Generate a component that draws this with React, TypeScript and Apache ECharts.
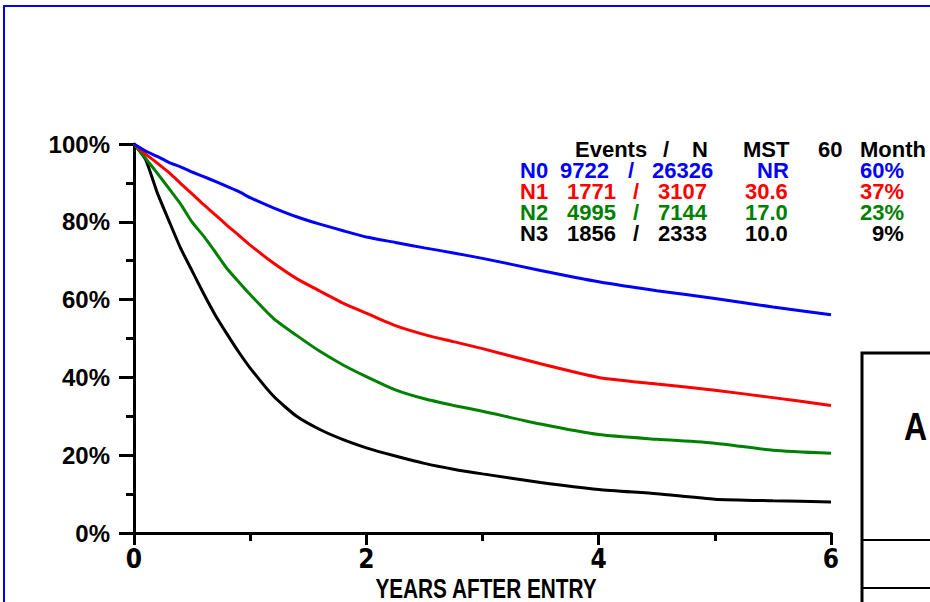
import React, { useEffect, useRef } from "react";
import * as echarts from "echarts";

// Follow-up time (years) at which survival is tabulated
const years = [0, 0.1, 0.2, 0.3, 0.4, 0.5, 0.6, 0.7, 0.8, 0.9, 1.0, 1.2, 1.4, 1.6, 1.8, 2.0, 2.25, 2.5, 2.75, 3.0, 3.5, 4.0, 4.5, 5.0, 5.5, 6.0];

// Survival (%) per nodal stage
const survN0 = [100, 98.2, 96.8, 95.3, 94.1, 92.8, 91.6, 90.4, 89.1, 87.8, 86.2, 83.6, 81.3, 79.4, 77.7, 76.1, 74.7, 73.3, 72.0, 70.6, 67.5, 64.6, 62.3, 60.3, 58.1, 56.1];
const survN1 = [100, 97.4, 95.1, 92.7, 89.9, 87.2, 84.4, 81.8, 79.1, 76.6, 74.0, 69.4, 65.4, 62.2, 59.1, 56.5, 53.3, 51.0, 49.2, 47.4, 43.5, 40.0, 38.3, 36.7, 34.8, 32.8];
const survN2 = [100, 96.3, 92.5, 88.6, 84.6, 79.9, 76.3, 72.2, 68.0, 64.6, 61.3, 55.2, 50.8, 46.7, 43.2, 40.2, 36.8, 34.5, 32.8, 31.3, 28.0, 25.3, 24.1, 23.1, 21.3, 20.5];
const survN3 = [100, 96.0, 87.5, 80.3, 73.3, 67.4, 61.5, 56.0, 51.2, 46.6, 42.4, 35.2, 30.0, 26.6, 24.0, 21.9, 19.8, 17.9, 16.4, 15.2, 13.0, 11.2, 10.1, 8.7, 8.3, 8.0];

// Summary table
const groups = ["N0", "N1", "N2", "N3"];
const events = ["9722", "1771", "4995", "1856"];
const totals = ["26326", "3107", "7144", "2333"];
const mst = ["NR", "30.6", "17.0", "10.0"];
const month60 = ["60%", "37%", "23%", "9%"];
const colors = ["#0000ff", "#ff0000", "#008000", "#000000"];
const curves = [survN0, survN1, survN2, survN3];

const NARROW = "'Liberation Sans Narrow', 'Arial Narrow', 'DejaVu Sans Condensed', sans-serif";
const SANS = "'Liberation Sans', Arial, Helvetica, sans-serif";

function tableText(): any[] {
  const out: any[] = [];
  const base = {
    fontFamily: SANS,
    fontWeight: "bold",
    fontSize: 22,
    lineHeight: 19,
    verticalAlign: "middle",
  };
  const header: [string, number][] = [
    ["Events", 575], ["/", 663], ["N", 692], ["MST", 743], ["60", 818], ["Month", 860],
  ];
  header.forEach(([t, x]) =>
    out.push({ type: "text", x, y: 149, style: { ...base, text: t, fill: "#000" } })
  );
  const rowY = [170, 191, 212, 233];
  groups.forEach((g, i) => {
    const y = rowY[i];
    const fill = colors[i];
    const cells: [string, number][] =
      i === 0
        ? [[g, 520], [events[i], 560], ["/", 628], [totals[i], 652], [mst[i], 757], [month60[i], 860]]
        : [[g, 520], [events[i], 567], ["/", 633], [totals[i], 658], [mst[i], 745], [month60[i], i === 3 ? 872 : 860]];
    cells.forEach(([t, x]) =>
      out.push({ type: "text", x, y, style: { ...base, text: t, fill } })
    );
  });
  return out;
}

export default function App() {
  const ref = useRef<HTMLDivElement>(null);

  useEffect(() => {
    document.body.style.margin = "0";
    if (!ref.current) return;
    const chart = echarts.init(ref.current, null, { renderer: "svg" });

    const tickStyle = { color: "#000", width: 3 };

    chart.setOption({
      animation: false,
      backgroundColor: "#ffffff",
      grid: { left: 134, right: 99, top: 144, bottom: 69, containLabel: false },
      xAxis: {
        type: "value",
        min: 0,
        max: 6,
        interval: 2,
        axisLine: { show: true, onZero: false, lineStyle: tickStyle },
        axisTick: { show: true, length: 12, lineStyle: tickStyle },
        minorTick: { show: true, splitNumber: 2, length: 8, lineStyle: tickStyle },
        splitLine: { show: false },
        minorSplitLine: { show: false },
        axisLabel: {
          color: "#000",
          fontSize: 26,
          fontWeight: "bold",
          fontFamily: NARROW,
          margin: 13,
        },
      },
      yAxis: {
        type: "value",
        min: 0,
        max: 100,
        interval: 20,
        axisLine: { show: true, onZero: false, lineStyle: tickStyle },
        axisTick: { show: true, length: 15, lineStyle: tickStyle },
        minorTick: { show: true, splitNumber: 2, length: 8, lineStyle: tickStyle },
        splitLine: { show: false },
        minorSplitLine: { show: false },
        axisLabel: {
          color: "#000",
          fontSize: 24,
          fontWeight: "bold",
          fontFamily: SANS,
          margin: 24,
          formatter: "{value}%",
        },
      },
      series: curves.map((c, i) => ({
        name: groups[i],
        type: "line",
        symbol: "none",
        showSymbol: false,
        smooth: 0.2,
        data: years.map((t, k) => [t, c[k]]),
        lineStyle: { color: colors[i], width: 3 },
        itemStyle: { color: colors[i] },
        z: 10 - i,
      })),
      graphic: [
        // outer blue frame
        {
          type: "rect",
          shape: { x: 4, y: 6, width: 1000, height: 1000 },
          style: { fill: "none", stroke: "#0000ff", lineWidth: 2 },
          silent: true,
        },
        // x-axis title, condensed
        {
          type: "text",
          x: 486,
          y: 588,
          scaleX: 0.77,
          style: {
            text: "YEARS AFTER ENTRY",
            fontFamily: SANS,
            fontWeight: "bold",
            fontSize: 27,
            fill: "#000",
            align: "center",
            verticalAlign: "middle",
          },
        },
        // side panel box
        {
          type: "rect",
          shape: { x: 862, y: 353, width: 200, height: 400 },
          style: { fill: "#fff", stroke: "#000", lineWidth: 3 },
          silent: true,
        },
        {
          type: "line",
          shape: { x1: 862, y1: 540, x2: 1000, y2: 540 },
          style: { stroke: "#000", lineWidth: 2 },
          silent: true,
        },
        {
          type: "line",
          shape: { x1: 862, y1: 588, x2: 1000, y2: 588 },
          style: { stroke: "#000", lineWidth: 2 },
          silent: true,
        },
        {
          type: "text",
          x: 904,
          y: 427,
          scaleX: 0.82,
          style: {
            text: "A",
            fontFamily: SANS,
            fontWeight: "bold",
            fontSize: 39,
            fill: "#000",
            verticalAlign: "middle",
          },
        },
        ...tableText(),
      ],
    });

    return () => chart.dispose();
  }, []);

  return <div ref={ref} style={{ width: 930, height: 602 }} />;
}
